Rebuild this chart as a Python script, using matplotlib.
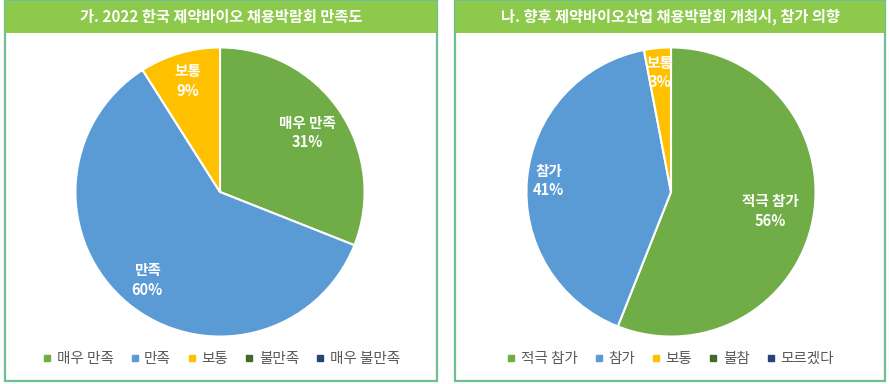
import matplotlib
matplotlib.use("Agg")
import matplotlib.pyplot as plt
from matplotlib.patches import Rectangle
from matplotlib.lines import Line2D
import numpy as np

plt.rcParams['font.family'] = ['Noto Sans CJK KR', 'DejaVu Sans']

title1 = "가. 2022 한국 제약바이오 채용박람회 만족도"
cats1 = ["매우 만족", "만족", "보통", "불만족", "매우 불만족"]
vals1 = [31, 60, 9, 0, 0]

title2 = "나. 향후 제약바이오산업 채용박람회 개최시, 참가 의향"
cats2 = ["적극 참가", "참가", "보통", "불참", "모르겠다"]
vals2 = [56, 41, 3, 0, 0]

colors = ["#70ad47", "#5b9bd5", "#ffc000", "#43682b", "#264478"]

W, H = 889, 384
fig = plt.figure(figsize=(W / 100, H / 100), dpi=100)
fig.patch.set_facecolor("white")


def px(x0, y0, w, h):
    return [x0 / W, 1 - (y0 + h) / H, w / W, h / H]


def panel(x0, x1, title, cats, vals, cx, label_dist):
    # frame
    fig.patches.append(Rectangle((x0 / W, 1 - 381 / H), (x1 - x0) / W, 380 / H,
                                 transform=fig.transFigure, facecolor="white",
                                 edgecolor="#6cbf93", lw=1.6, zorder=0))
    fig.patches.append(Rectangle((x0 / W, 1 - 33 / H), (x1 - x0) / W, 32 / H,
                                 transform=fig.transFigure, facecolor="#8dc94a",
                                 edgecolor="none", zorder=1))
    fig.text((x0 + x1) / 2 / W, 1 - 17 / H, title, color="white",
             fontsize=11, fontweight="bold", ha="center", va="center", zorder=2)

    r = 146
    ax = fig.add_axes(px(cx - r, 192 - r, 2 * r, 2 * r))
    ax.set_zorder(5)
    ax.patch.set_visible(False)
    nz = [(c, v, col) for c, v, col in zip(cats, vals, colors) if v > 0]
    wedges, _ = ax.pie([v for _, v, _ in nz], colors=[col for _, _, col in nz],
                       startangle=90, counterclock=False, radius=1,
                       wedgeprops=dict(edgecolor="white", linewidth=1.5))
    for w, (c, v, _), d in zip(wedges, nz, label_dist):
        ang = np.deg2rad((w.theta1 + w.theta2) / 2)
        ax.text(d * np.cos(ang), d * np.sin(ang), f"{c}\n{v}%", color="white",
                fontsize=10.5, fontweight="bold", ha="center", va="center",
                linespacing=1.25)
    ax.set_xlim(-1.01, 1.01)
    ax.set_ylim(-1.01, 1.01)
    ax.set_aspect("equal")
    ax.axis("off")

    handles = [Line2D([], [], marker="s", color=col, linestyle="none", markersize=5)
               for col in colors]
    leg = fig.legend(handles, cats, loc="center", bbox_to_anchor=((x0 + x1) / 2 / W, 1 - 359 / H),
                     ncol=5, frameon=False, fontsize=10.5, handlelength=0.7, handletextpad=0.3,
                     columnspacing=1.1, labelcolor="#595959")
    leg.set_zorder(6)


panel(5, 437, title1, cats1, vals1, 220, [0.73, 0.79, 0.8])
panel(455, 885, title2, cats2, vals2, 671, [0.7, 0.85, 0.83])

fig.savefig("out.png", dpi=100, facecolor="white")
